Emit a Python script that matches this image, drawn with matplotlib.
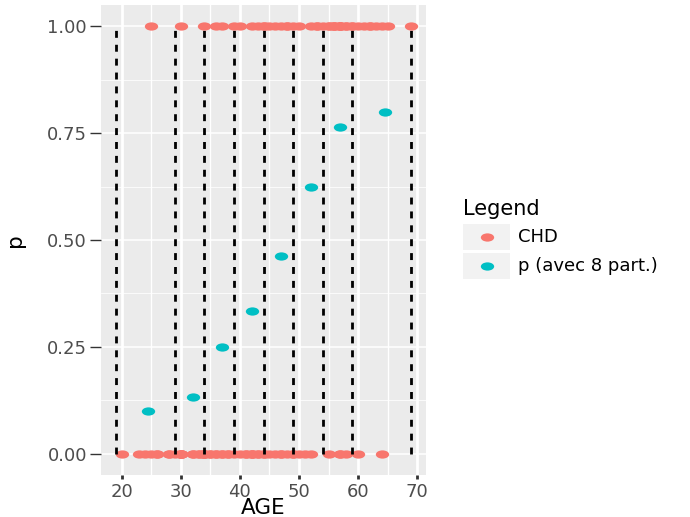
import matplotlib
matplotlib.use("Agg")
import matplotlib.pyplot as plt
from matplotlib.markers import MarkerStyle
from matplotlib.transforms import Affine2D
from matplotlib.patches import Rectangle
from matplotlib.lines import Line2D

# ---------------- data ----------------
AGE = [20, 23, 24, 25, 25, 26, 26, 28, 28, 29,
       30, 30, 30, 30, 30, 30,
       32, 32, 33, 33,
       34, 34, 34, 34, 34,
       35, 35, 36, 36, 36, 37, 37, 37, 38, 38, 39, 39,
       40, 40, 41, 41, 42, 42, 42, 42, 43, 43, 43, 44, 44, 44, 44,
       45, 45, 46, 46, 47, 47, 47, 48, 48, 48, 49, 49, 49,
       50, 50, 51, 52, 52, 53, 53, 54,
       55, 55, 55, 56, 56, 56, 57, 57, 57, 57, 57, 57, 58, 58, 58, 59, 59,
       60, 60, 61, 62, 62, 63, 64, 64, 65, 69]
CHD = [0, 0, 0, 0, 1, 0, 0, 0, 0, 0,
       0, 0, 0, 0, 0, 1,
       0, 0, 0, 0,
       0, 0, 1, 0, 0,
       0, 0, 0, 1, 0, 0, 1, 0, 0, 0, 0, 1,
       0, 1, 0, 0, 0, 0, 0, 1, 0, 0, 1, 0, 0, 1, 1,
       0, 1, 0, 1, 0, 0, 1, 0, 1, 1, 0, 0, 1,
       0, 1, 0, 0, 1, 1, 1, 1,
       0, 1, 1, 1, 1, 1, 0, 0, 1, 1, 1, 1, 0, 1, 1, 1, 1,
       0, 1, 1, 1, 1, 1, 0, 1, 1, 1]

CLASS_MID = [24.5, 32, 37, 42, 47, 52, 57, 64.5]
P_CLASS = [0.100, 0.133, 0.250, 0.333, 0.462, 0.625, 0.765, 0.800]

BREAKS = [19, 29, 34, 39, 44, 49, 54, 59, 69]

X_TICKS = [20, 30, 40, 50, 60, 70]
Y_TICKS = [0.0, 0.25, 0.5, 0.75, 1.0]
Y_TICKLABELS = ["0.00", "0.25", "0.50", "0.75", "1.00"]

LEGEND_TITLE = "Legend"
LEGEND_LABELS = ["CHD", "p (avec 8 part.)"]

# ---------------- style ----------------
RED = "#F8766D"
CYAN = "#00BFC4"
PANEL = "#EBEBEB"
FONT = "DejaVu Sans"

W, H = 690, 517
fig = plt.figure(figsize=(W / 100, H / 100), dpi=100)
fig.patch.set_facecolor("white")


def fx(px):
    return px / W


def fy(py):
    return 1 - py / H


left, right, top, bottom = 101, 426, 5, 475
ax = fig.add_axes([left / W, 1 - bottom / H, (right - left) / W, (bottom - top) / H])
ax.set_facecolor(PANEL)
for s in ax.spines.values():
    s.set_visible(False)

ax.set_xlim(16.5, 71.5)
ax.set_ylim(-0.05, 1.05)

# grid
ax.set_xticks(X_TICKS)
ax.set_xticks([25, 35, 45, 55, 65], minor=True)
ax.set_yticks(Y_TICKS)
ax.set_yticks([0.125, 0.375, 0.625, 0.875], minor=True)
ax.grid(True, which="major", axis="x", color="white", linewidth=2.0)
ax.grid(True, which="minor", axis="x", color="white", linewidth=1.0)
ax.grid(True, which="major", axis="y", color="white", linewidth=1.1)
ax.grid(True, which="minor", axis="y", color="white", linewidth=0.55)
ax.set_axisbelow(True)

ell = MarkerStyle("o", transform=Affine2D().scale(1.0, 0.62))

ax.plot(AGE, CHD, linestyle="none", marker=ell, markersize=9.6,
        markerfacecolor=RED, markeredgewidth=0, zorder=3)
ax.plot(CLASS_MID, P_CLASS, linestyle="none", marker=ell, markersize=9.6,
        markerfacecolor=CYAN, markeredgewidth=0, zorder=3)

ax.vlines(BREAKS, 0, 1, colors="black", linewidth=2.0,
          linestyles=(0, (2.5, 2.5)), zorder=4)

# ticks
ax.set_xticklabels([str(v) for v in X_TICKS], fontsize=13, color="#4D4D4D",
                   family=FONT)
ax.set_yticklabels(Y_TICKLABELS, fontsize=13, color="#4D4D4D", family=FONT)
ax.tick_params(axis="x", which="major", length=3, width=2.0, color="#333333", pad=3)
ax.tick_params(axis="y", which="major", length=8, width=1.0, color="#333333", pad=2)
ax.tick_params(which="minor", length=0)

# axis titles
fig.text(fx((left + right) / 2), fy(514), "AGE", fontsize=15.5, family=FONT,
         color="black", ha="center", va="baseline")
fig.text(fx(15), fy(240), "p", fontsize=15.5, family=FONT, color="black",
         ha="center", va="center", rotation=90)

# legend (manual, ggplot style)
fig.text(fx(463), fy(215), LEGEND_TITLE, fontsize=15, family=FONT,
         color="black", ha="left", va="baseline")
key_rows = [(224, 250), (253, 279)]
colors = [RED, CYAN]
for (y0, y1), c, lab in zip(key_rows, colors, LEGEND_LABELS):
    fig.add_artist(Rectangle((fx(463), fy(y1)), fx(510) - fx(463), fy(y0) - fy(y1),
                             transform=fig.transFigure, facecolor="#F2F2F2",
                             edgecolor="none"))
    yc = (y0 + y1) / 2
    fig.add_artist(Line2D([fx(486.5)], [fy(yc)], transform=fig.transFigure,
                          linestyle="none", marker=ell, markersize=9.6,
                          markerfacecolor=c, markeredgewidth=0))
    fig.text(fx(518), fy(yc), lab, fontsize=13, family=FONT, color="black",
             ha="left", va="center")

fig.savefig("out.png", dpi=100)
